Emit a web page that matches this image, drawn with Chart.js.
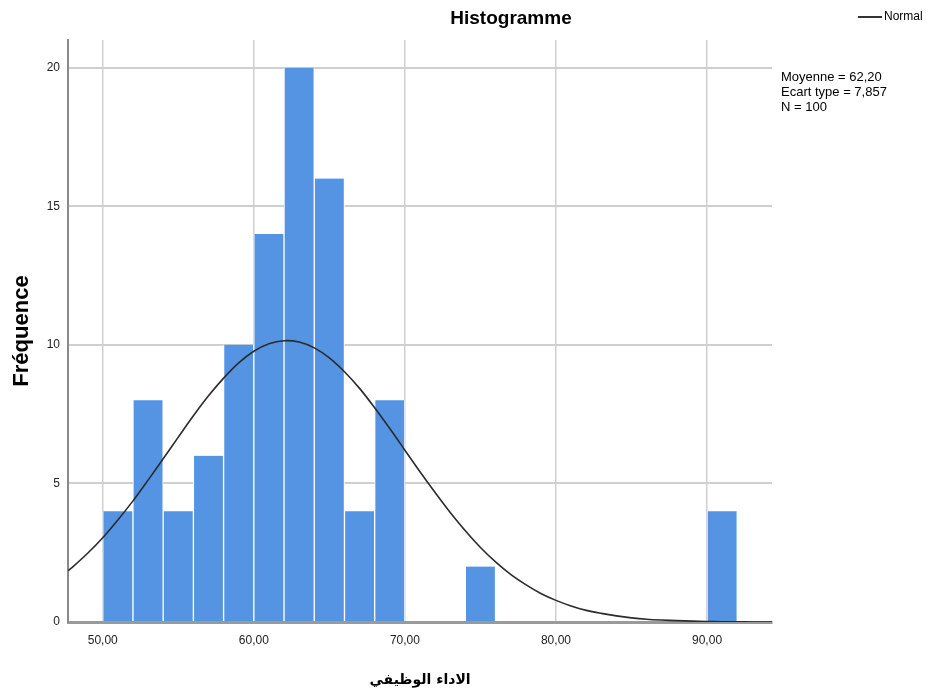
<!DOCTYPE html>
<html>
<head>
<meta charset="utf-8">
<script src="https://cdn.jsdelivr.net/npm/chart.js@4"></script>
<style>
html,body{margin:0;padding:0;background:#fff;}
#wrap{width:929px;height:695px;position:relative;}
</style>
</head>
<body>
<div id="wrap"><canvas id="c" width="929" height="695"></canvas></div>
<script>
// Histogram bins (centres of 2-unit bins) and frequencies
const binCenters = [51, 53, 55, 57, 59, 61, 63, 65, 67, 69, 75, 91];
const frequencies = [4, 8, 4, 6, 10, 14, 20, 16, 4, 8, 2, 4];

// Normal curve
const curveX = [47.7, 48, 49, 50, 51, 52, 53, 54, 55, 56, 57, 58, 59, 60, 61, 62, 63, 64, 65, 66, 67, 68, 69, 70, 71, 72, 73, 74, 75, 76, 77, 78, 79, 80, 81, 82, 83, 84, 85, 86, 87, 88, 89, 90, 91, 92, 93, 94, 94.3];
const curveY = [1.85, 1.98, 2.48, 3.04, 3.68, 4.37, 5.12, 5.89, 6.67, 7.44, 8.16, 8.80, 9.35, 9.77, 10.04, 10.15, 10.10, 9.89, 9.53, 9.03, 8.43, 7.73, 6.98, 6.20, 5.42, 4.67, 3.95, 3.29, 2.69, 2.17, 1.72, 1.35, 1.03, 0.78, 0.58, 0.42, 0.31, 0.22, 0.15, 0.10, 0.07, 0.05, 0.03, 0.02, 0.01, 0.01, 0.00, 0.00, 0.00];

const xTicks = [50, 60, 70, 80, 90];
const yTicks = [0, 5, 10, 15, 20];

const titleText = 'Histogramme';
const legendText = 'Normal';
const statsLines = ['Moyenne = 62,20', 'Ecart type = 7,857', 'N = 100'];
const yTitle = 'Fréquence';
const xTitle = 'الاداء الوظيفي';

const barData = binCenters.map((x, i) => ({x: x, y: frequencies[i]}));
const lineData = curveX.map((x, i) => ({x: x, y: curveY[i]}));

const textPlugin = {
  id: 'texts',
  afterDraw(chart) {
    const ctx = chart.ctx;
    ctx.save();
    ctx.fillStyle = '#000';
    ctx.textBaseline = 'middle';
    ctx.textAlign = 'center';
    ctx.font = 'bold 19px "Liberation Sans", Arial, sans-serif';
    ctx.fillText(titleText, 511, 19);
    // legend
    ctx.strokeStyle = '#333';
    ctx.lineWidth = 2;
    ctx.beginPath();
    ctx.moveTo(858, 17);
    ctx.lineTo(882, 17);
    ctx.stroke();
    ctx.textAlign = 'left';
    ctx.font = '12px "Liberation Sans", Arial, sans-serif';
    ctx.fillText(legendText, 884, 17);
    // stats
    ctx.font = '13px "Liberation Sans", Arial, sans-serif';
    statsLines.forEach((s, i) => ctx.fillText(s, 781, 77 + i * 15));
    ctx.restore();
  }
};

new Chart(document.getElementById('c'), {
  type: 'bar',
  data: {
    datasets: [
      {
        type: 'line',
        label: legendText,
        data: lineData,
        borderColor: '#2b2b2b',
        borderWidth: 1.6,
        pointRadius: 0,
        tension: 0.3,
        fill: false,
        order: 0
      },
      {
        type: 'bar',
        label: 'Fréquence',
        data: barData,
        backgroundColor: '#5594e3',
        borderColor: '#ffffff',
        borderWidth: {left: 1, right: 1, top: 0, bottom: 0},
        borderSkipped: false,
        barPercentage: 1.0,
        categoryPercentage: 1.0,
        grouped: false,
        order: 1
      }
    ]
  },
  options: {
    responsive: false,
    animation: false,
    devicePixelRatio: 1,
    layout: {padding: {left: 0, right: 157, top: 40, bottom: 0}},
    plugins: {legend: {display: false}, tooltip: {enabled: false}, title: {display: false}},
    scales: {
      x: {
        type: 'linear',
        min: 47.7,
        max: 94.3,
        offset: false,
        afterBuildTicks(scale) { scale.ticks = xTicks.map(v => ({value: v})); },
        afterFit(scale) { scale.height = 73; },
        ticks: {
          autoSkip: false,
          maxRotation: 0,
          padding: 11,
          color: '#222',
          font: {family: '"Liberation Sans", Arial, sans-serif', size: 12},
          callback: v => v.toFixed(2).replace('.', ',')
        },
        grid: {color: '#cfcfcf', lineWidth: 1.5, drawTicks: false, offset: false},
        border: {display: true, color: '#9a9a9a', width: 3},
        title: {
          display: true,
          text: xTitle,
          color: '#000',
          font: {family: '"DejaVu Sans", sans-serif', size: 14, weight: 'bold'},
          padding: {top: 0, bottom: 6}
        }
      },
      y: {
        type: 'linear',
        min: 0,
        max: 21,
        afterBuildTicks(scale) { scale.ticks = yTicks.map(v => ({value: v})); },
        afterFit(scale) { scale.width = 68; },
        ticks: {
          padding: 8,
          color: '#222',
          font: {family: '"Liberation Sans", Arial, sans-serif', size: 12}
        },
        grid: {color: '#cfcfcf', lineWidth: 2, drawTicks: false},
        border: {display: true, color: '#8a8a8a', width: 2},
        title: {
          display: true,
          text: yTitle,
          color: '#000',
          font: {family: '"Liberation Sans", Arial, sans-serif', size: 22, weight: 'bold'},
          padding: {top: 9, bottom: 0}
        }
      }
    }
  },
  plugins: [textPlugin]
});
</script>
</body>
</html>
